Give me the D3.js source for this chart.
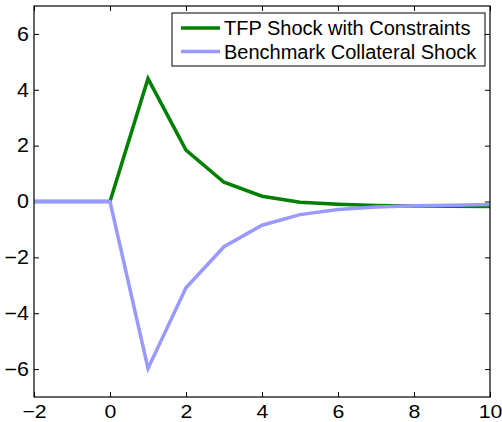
<!DOCTYPE html>
<html>
<head>
<meta charset="utf-8">
<script src="https://d3js.org/d3.v7.min.js"></script>
<style>
  body { margin: 0; background: #fff; }
  text { font-family: "Liberation Sans", Arial, Helvetica, sans-serif; fill: #000; }
</style>
</head>
<body>
<div id="chart"></div>
<script>
// Data
const periods = [-2, -1, 0, 1, 2, 3, 4, 5, 6, 7, 8, 9, 10];
const tfpShock = [0, 0, 0, 4.4, 1.84, 0.69, 0.19, -0.03, -0.1, -0.14, -0.16, -0.17, -0.18];
const collateralShock = [0, 0, 0, -5.98, -3.09, -1.62, -0.85, -0.47, -0.29, -0.2, -0.15, -0.13, -0.11];
const seriesNames = ["TFP Shock with Constraints", "Benchmark Collateral Shock"];
const seriesColors = ["#007f00", "#9999ff"];
const xTicks = [-2, 0, 2, 4, 6, 8, 10];
const yTicks = [-6, -4, -2, 0, 2, 4, 6];

const width = 502, height = 422;
const margin = { left: 34, right: 12, top: 6, bottom: 25 };

const svg = d3.select("#chart")
    .append("svg")
    .attr("width", width)
    .attr("height", height);

const x = d3.scaleLinear().domain([-2, 10]).range([margin.left, width - margin.right]);
const y = d3.scaleLinear().domain([-7, 7]).range([height - margin.bottom, margin.top]);

const tickLen = 5;
const fmt = d => d < 0 ? "\u2212" + Math.abs(d) : String(d);

// the original digits are a little wider than Liberation Sans
function stretch(sel, k) {
    sel.each(function () {
        const w = this.getComputedTextLength();
        d3.select(this).attr("textLength", w * k).attr("lengthAdjust", "spacingAndGlyphs");
    });
}

// Bottom axis (ticks inside)
svg.append("g")
    .attr("transform", `translate(0,${y.range()[0]})`)
    .call(d3.axisBottom(x).tickValues(xTicks).tickSizeInner(-tickLen).tickSizeOuter(0).tickPadding(8).tickFormat(fmt))
    .call(g => g.select(".domain").remove())
    .call(g => g.selectAll("text").attr("font-size", 19).attr("dy", "0.71em").call(stretch, 1.12));

// Top axis ticks
svg.append("g")
    .attr("transform", `translate(0,${y.range()[1]})`)
    .call(d3.axisTop(x).tickValues(xTicks).tickSizeInner(-tickLen).tickSizeOuter(0).tickFormat(""))
    .call(g => g.select(".domain").remove());

// Left axis
svg.append("g")
    .attr("transform", `translate(${x.range()[0]},0)`)
    .call(d3.axisLeft(y).tickValues(yTicks).tickSizeInner(-tickLen).tickSizeOuter(0).tickPadding(5).tickFormat(fmt))
    .call(g => g.select(".domain").remove())
    .call(g => g.selectAll("text").attr("font-size", 19.5).call(stretch, 1.1));

// Right axis ticks
svg.append("g")
    .attr("transform", `translate(${x.range()[1]},0)`)
    .call(d3.axisRight(y).tickValues(yTicks).tickSizeInner(-tickLen).tickSizeOuter(0).tickFormat(""))
    .call(g => g.select(".domain").remove());

// Lines (benchmark drawn last, on top)
const line = d3.line()
    .x((d, i) => x(periods[i]))
    .y(d => y(d));

[tfpShock, collateralShock].forEach((vals, k) => {
    svg.append("path")
        .datum(vals)
        .attr("fill", "none")
        .attr("stroke", seriesColors[k])
        .attr("stroke-width", 3.5)
        .attr("d", line);
});

// Axes box
svg.append("rect")
    .attr("x", x.range()[0])
    .attr("y", y.range()[1])
    .attr("width", x.range()[1] - x.range()[0])
    .attr("height", y.range()[0] - y.range()[1])
    .attr("fill", "none")
    .attr("stroke", "#000")
    .attr("stroke-width", 1.2);

// Legend
const legend = svg.append("g").attr("transform", "translate(172,13)");
legend.append("rect")
    .attr("width", 313)
    .attr("height", 53)
    .attr("fill", "#fff")
    .attr("stroke", "#000")
    .attr("stroke-width", 1);

seriesNames.forEach((name, i) => {
    const row = legend.append("g").attr("transform", `translate(0,${15 + i * 23.5})`);
    row.append("line")
        .attr("x1", 9).attr("x2", 48)
        .attr("stroke", seriesColors[i])
        .attr("stroke-width", 3.5);
    row.append("text")
        .attr("x", 52)
        .attr("y", 7)
        .attr("font-size", 20)
        .text(name);
});
</script>
</body>
</html>
